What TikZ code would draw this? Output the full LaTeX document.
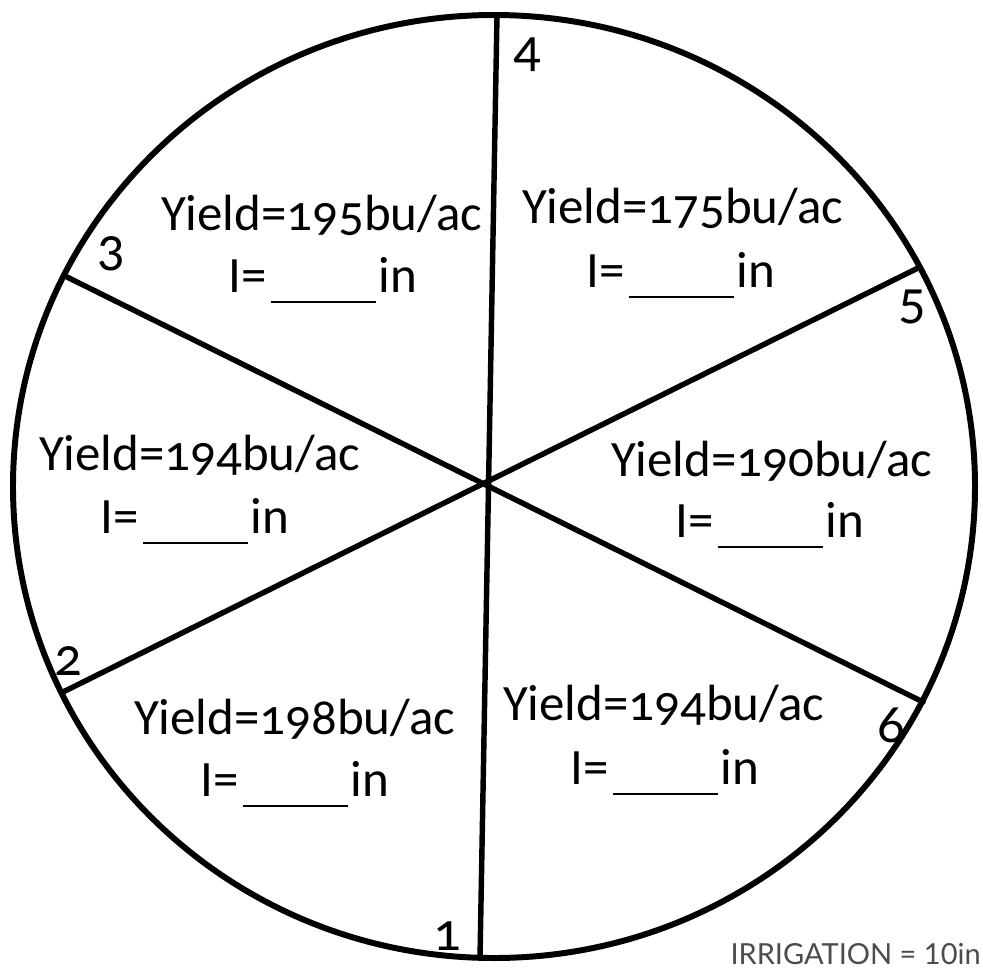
\documentclass[tikz,border=0pt]{standalone}
\usepackage{fontspec}
\setmainfont{Carlito}[Numbers=OldStyle]
\newfontfamily\notefont{Lato}
\begin{document}
\begin{tikzpicture}[x=0.02cm,y=-0.02cm,
  yieldtext/.style={anchor=base,inner sep=0pt,font=\fontsize{29}{35}\selectfont},
  numtext/.style={anchor=base,inner sep=0pt,font=\fontsize{31}{36}\selectfont},
  divline/.style={line width=3.1pt,line cap=round},
]
\newcommand{\blankin}{I=\hspace{0.08cm}\rule[-0.22cm]{2.1cm}{1.1pt}\hspace{0.06cm}in}
\useasboundingbox (0,0) rectangle (983,970);
\fill[white] (0,0) rectangle (983,970);
% circle (slightly elliptical as in the reference)
\draw[line width=3.4pt] (494,486.5) ellipse [x radius=481, y radius=471.5];
% end points of the dividing lines
\coordinate (p4) at (497,15);
\coordinate (p1) at (480,958);
\coordinate (p3) at (67,277);
\coordinate (p6) at (923,702);
\coordinate (p2) at (63,692);
\coordinate (p5) at (920,267);
\draw[divline] (p4) -- (p1);
\draw[divline] (p3) -- (p6);
\draw[divline] (p2) -- (p5);
% sector numbers
\node[numtext] (n4) at (527,66) {4};
\node[numtext] (n3) at (111,265) {3};
\node[numtext] (n5) at (912,318) {5};
\node[numtext] (n2) at (68,675) {2};
\node[numtext] (n6) at (891,742) {6};
\node[numtext] (n1) at (447,950) {1};
% yields
\node[yieldtext] (y3) at (322,230) {Yield=195bu/ac};
\node[yieldtext] (i3) at (323,292) {\blankin};
\node[yieldtext] (y4) at (683,223) {Yield=175bu/ac};
\node[yieldtext] (i4) at (681,287) {\blankin};
\node[yieldtext] (y2) at (200,470) {Yield=194bu/ac};
\node[yieldtext] (i2) at (195,533) {\blankin};
\node[yieldtext] (y5) at (772,476) {Yield=190bu/ac};
\node[yieldtext] (i5) at (770,537) {\blankin};
\node[yieldtext] (y1) at (295,734) {Yield=198bu/ac};
\node[yieldtext] (i1) at (295,796) {\blankin};
\node[yieldtext] (y6) at (664,720) {Yield=194bu/ac};
\node[yieldtext] (i6) at (665,784) {\blankin};
% irrigation note
\node[anchor=base east,inner sep=0pt,text=black!70,font=\notefont\fontsize{16.5}{19}\selectfont] (irr) at (981,964) {IRRIGATION = 10in};
\end{tikzpicture}
\end{document}
